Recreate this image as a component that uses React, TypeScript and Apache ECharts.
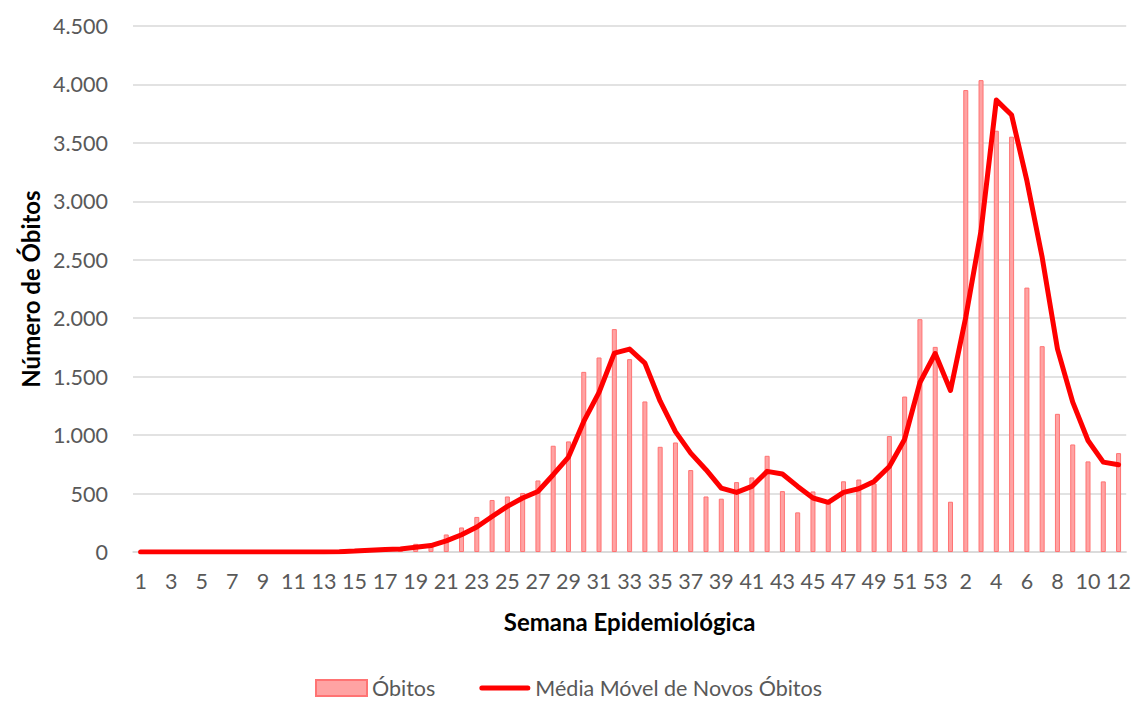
import React, { useEffect, useRef } from "react";
import * as echarts from "echarts";

const weeks: string[] = [
  "1","2","3","4","5","6","7","8","9","10","11","12","13","14","15","16","17","18","19","20",
  "21","22","23","24","25","26","27","28","29","30","31","32","33","34","35","36","37","38","39","40",
  "41","42","43","44","45","46","47","48","49","50","51","52","53",
  "1","2","3","4","5","6","7","8","9","10","11","12",
];

const obitos: number[] = [
  0,0,0,0,0,0,0,0,0,0,0,0,0,2,5,15,20,30,70,50,
  150,210,300,445,475,505,612,909,946,1541,1664,1907,1650,1288,900,937,701,475,456,598,
  638,823,521,339,518,420,605,620,585,992,1330,1992,1755,
  430,3952,4037,3604,3553,2262,1761,1182,920,775,604,846,
];

const mediaMovel: number[] = [
  0,0,0,0,0,0,0,0,0,0,0,0,1,3,8,16,22,26,40,55,
  95,148,214,304,390,462,518,661,812,1117,1365,1701,1736,1616,1290,1030,846,704,547,510,
  561,690,667,561,462,425,510,541,604,732,965,1450,1698,
  1382,2009,2749,3866,3738,3177,2521,1738,1282,954,769,746,
];

const seriesNames = ["Óbitos", "Média Móvel de Novos Óbitos"];

const FONT = "Lato, 'Open Sans', sans-serif";

export default function App() {
  const ref = useRef<HTMLDivElement>(null);
  useEffect(() => {
    if (!ref.current) return;
    const chart = echarts.init(ref.current, null, { renderer: "svg" });
    chart.setOption({
      animation: false,
      backgroundColor: "#ffffff",
      textStyle: { fontFamily: FONT },
      grid: { left: 133, right: 3, top: 26, bottom: 153, containLabel: false },
      legend: {
        left: 310,
        top: 675,
        padding: [2, 5, 2, 5],
        itemWidth: 51,
        itemHeight: 16,
        itemGap: 44,
        textStyle: { color: "#595959", fontSize: 21.5, fontFamily: FONT },
        data: [
          { name: seriesNames[0], icon: "rect" },
          {
            name: seriesNames[1],
            icon: "path://M2.5,0 H48.5 A2.5,2.5 0 0 1 48.5,5 H2.5 A2.5,2.5 0 0 1 2.5,0 Z",
          },
        ],
      },
      xAxis: {
        type: "category",
        data: weeks,
        boundaryGap: true,
        axisLine: { show: true, lineStyle: { color: "#d9d9d9", width: 1.5 } },
        axisTick: { show: false },
        axisLabel: { interval: 1, color: "#595959", fontSize: 21.5, margin: 18, fontFamily: FONT },
        name: "Semana Epidemiológica",
        nameLocation: "middle",
        nameGap: 57,
        nameTextStyle: { color: "#000000", fontSize: 24, fontWeight: "bold", fontFamily: FONT },
      },
      yAxis: {
        type: "value",
        min: 0,
        max: 4500,
        interval: 500,
        axisLine: { show: false },
        axisTick: { show: false },
        splitLine: { show: true, lineStyle: { color: "#d9d9d9", width: 1.5 } },
        axisLabel: {
          color: "#595959",
          fontSize: 21.5,
          margin: 25,
          fontFamily: FONT,
          formatter: (v: number) => v.toLocaleString("de-DE"),
        },
        name: "Número de Óbitos",
        nameLocation: "middle",
        nameGap: 88,
        nameTextStyle: { color: "#000000", fontSize: 24, fontWeight: "bold", fontFamily: FONT },
      },
      series: [
        {
          name: seriesNames[0],
          type: "bar",
          data: obitos,
          barWidth: 5,
          itemStyle: { color: "#ffa3a3", borderColor: "#ff7373", borderWidth: 1 },
        },
        {
          name: seriesNames[1],
          type: "line",
          data: mediaMovel,
          symbol: "none",
          showSymbol: false,
          lineStyle: { color: "#ff0000", width: 5, cap: "round", join: "round" },
          itemStyle: { color: "#ff0000" },
        },
      ],
    });
    return () => chart.dispose();
  }, []);
  return (
    <div
      ref={ref}
      style={{ position: "fixed", left: 0, top: 0, width: 1134, height: 705 }}
    />
  );
}
